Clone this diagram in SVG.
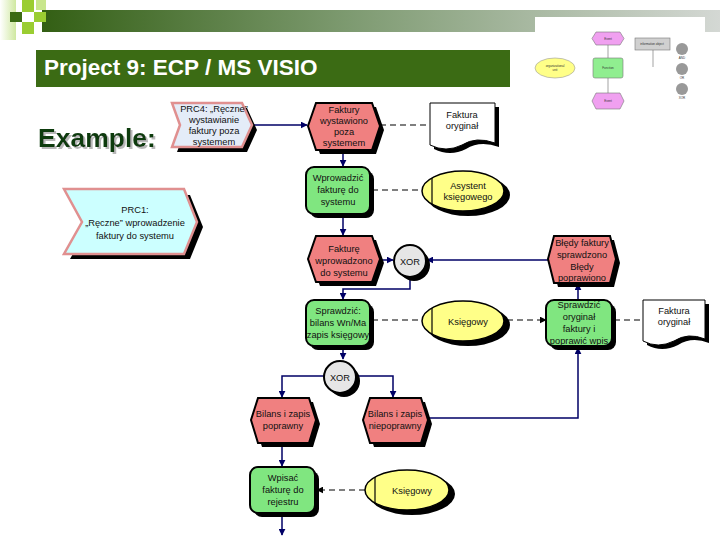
<svg xmlns="http://www.w3.org/2000/svg" width="720" height="540" viewBox="0 0 720 540">
<defs>
<linearGradient id="bar" x1="0" x2="1" y1="0" y2="0">
<stop offset="0" stop-color="#335f14"/>
<stop offset="0.45" stop-color="#7d9a70"/>
<stop offset="1" stop-color="#d4d8d4"/>
</linearGradient>
<linearGradient id="pale" x1="0" x2="1" y1="0" y2="0">
<stop offset="0" stop-color="#ffffff"/>
<stop offset="1" stop-color="#cfe8a0"/>
</linearGradient>
<filter id="tsh" x="-5%" y="-20%" width="115%" height="150%">
<feDropShadow dx="2" dy="2" stdDeviation="0.5" flood-color="#b8b8b8" flood-opacity="1"/>
</filter>
<marker id="arr" viewBox="0 0 10 10" refX="9" refY="5" markerWidth="7" markerHeight="7" orient="auto" markerUnits="userSpaceOnUse">
<path d="M0,0 L10,5 L0,10 z" fill="#000066"/>
</marker>
<marker id="arrk" viewBox="0 0 10 10" refX="9" refY="5" markerWidth="7" markerHeight="7" orient="auto" markerUnits="userSpaceOnUse">
<path d="M0,0 L10,5 L0,10 z" fill="#000000"/>
</marker>
</defs>
<style>
.t{font-family:"Liberation Sans",Arial,sans-serif;font-size:9.3px;fill:#111;text-anchor:middle}
.tt{font-family:"Liberation Sans",Arial,sans-serif;font-size:3px;fill:#333;text-anchor:middle}
.ev{fill:#f08080;stroke:#000;stroke-width:2}
.fn{fill:#80e680;stroke:#000;stroke-width:2}
.org{fill:#ffff88;stroke:#000;stroke-width:1.5}
.doc{fill:#fff;stroke:#000;stroke-width:1}
.prc{stroke:#e09090;stroke-width:2.5}
.sh{fill:#000}
.flow{stroke:#000066;stroke-width:1.5;fill:none}
.dash{stroke:#000;stroke-width:1.2;fill:none;stroke-dasharray:6,4}
.xor{fill:#e6e6e6;stroke:#000;stroke-width:2}
</style>
<rect width="720" height="540" fill="#fff"/>
<!-- header -->
<g id="header">
<rect x="0" y="0" width="16" height="40" fill="url(#pale)"/>
<rect x="42" y="10" width="678" height="22" fill="url(#bar)"/>
<rect x="10" y="12" width="12" height="10" fill="#3b6b14"/>
<rect x="22" y="0" width="12" height="12" fill="#9acd32"/>
<rect x="34" y="12" width="12" height="10" fill="#9acd32"/>
<rect x="22" y="22" width="12" height="12" fill="#9acd32"/>
<rect x="36" y="0" width="10" height="10" fill="#c8e68c"/>
<rect x="36" y="50" width="474" height="37" fill="#3b6b14"/>
<text x="44" y="75" font-family="Liberation Sans,Arial,sans-serif" font-size="22.5" font-weight="bold" fill="#fff">Project 9: ECP / MS VISIO</text>
<text x="38" y="147" font-family="Liberation Sans,Arial,sans-serif" font-size="26.5" font-weight="bold" fill="#0e3a0e" filter="url(#tsh)">Example:</text>
</g>
<!-- legend thumbnail -->
<g id="legend">
<rect x="535" y="17" width="170" height="103" fill="#fff"/>
<line x1="608" y1="45" x2="608" y2="58" stroke="#666" stroke-width="0.6"/>
<line x1="608" y1="78" x2="608" y2="93" stroke="#666" stroke-width="0.6"/>
<line x1="653" y1="50" x2="653" y2="67" stroke="#666" stroke-width="0.6"/>
<polygon points="596,32 620,32 624,38.5 620,45 596,45 592,38.5" fill="#f0a0f0" stroke="#777" stroke-width="0.6"/>
<text class="tt" x="608" y="39.5">Event</text>
<rect x="593" y="58" width="30" height="20" rx="2" fill="#90ee90" stroke="#777" stroke-width="0.6"/>
<text class="tt" x="608" y="69">Function</text>
<polygon points="596,93 620,93 624,101 620,109 596,109 592,101" fill="#f0a0f0" stroke="#777" stroke-width="0.6"/>
<text class="tt" x="608" y="102">Event</text>
<ellipse cx="555" cy="68" rx="20" ry="10" fill="#ffff88" stroke="#999" stroke-width="0.6"/>
<text class="tt" x="555" y="67">organizational</text>
<text class="tt" x="555" y="71">unit</text>
<rect x="635" y="38" width="35" height="12" fill="#d0d0d0" stroke="#777" stroke-width="0.6"/>
<text class="tt" x="652" y="45">information object</text>
<circle cx="682" cy="49" r="6" fill="#999"/>
<text class="tt" x="682" y="59">AND</text>
<circle cx="682" cy="69" r="6" fill="#999"/>
<text class="tt" x="682" y="79">OR</text>
<circle cx="682" cy="89" r="6" fill="#999"/>
<text class="tt" x="682" y="99">XOR</text>
</g>
<!-- connectors -->
<g id="connectors">
<line class="flow" x1="252" y1="125" x2="307" y2="125" marker-end="url(#arr)"/>
<line class="dash" x1="380" y1="125" x2="430" y2="125"/>
<line class="flow" x1="343" y1="150" x2="343" y2="166" marker-end="url(#arr)"/>
<line class="dash" x1="372" y1="190" x2="422" y2="190"/>
<line class="flow" x1="343" y1="214" x2="343" y2="235" marker-end="url(#arr)"/>
<line class="flow" x1="378" y1="260" x2="393" y2="260" marker-end="url(#arr)"/>
<line class="flow" x1="548" y1="260" x2="427" y2="260" marker-end="url(#arr)"/>
<polyline class="flow" points="410,277 410,289 343,289 343,299" marker-end="url(#arr)"/>
<line class="flow" x1="578" y1="300" x2="578" y2="284" marker-end="url(#arr)"/>
<line class="dash" x1="372" y1="320" x2="422" y2="320"/>
<line class="dash" x1="507" y1="320" x2="546" y2="320" marker-end="url(#arrk)"/>
<line class="dash" x1="614" y1="320" x2="643" y2="320"/>
<line class="flow" x1="343" y1="346" x2="343" y2="359" marker-end="url(#arr)"/>
<polyline class="flow" points="324,376 282,376 282,397" marker-end="url(#arr)"/>
<polyline class="flow" points="356,376 393,376 393,397" marker-end="url(#arr)"/>
<polyline class="flow" points="427,418 578,418 578,348" marker-end="url(#arr)"/>
<line class="flow" x1="282" y1="443" x2="282" y2="466" marker-end="url(#arr)"/>
<line class="dash" x1="365" y1="490" x2="317" y2="490" marker-end="url(#arrk)"/>
<line class="flow" x1="282" y1="512" x2="282" y2="535" marker-end="url(#arr)"/>
</g>
<!-- nodes -->
<g id="prc1">
<polygon class="sh" points="70,195 190,195 203,227 190,259 70,259 88,227"/>
<polygon class="prc" fill="#ccffff" points="64,189 184,189 197,222 184,254 64,254 82,222"/>
<text class="t" x="135" y="213">PRC1:</text>
<text class="t" x="135" y="226">„Ręczne” wprowadzenie</text>
<text class="t" x="135" y="239">faktury do systemu</text>
</g>
<g id="prc4">
<polygon class="sh" points="177,108 247,108 257,130 247,152 177,152 185,130"/>
<polygon class="prc" fill="#e4ecf8" points="172,103 242,103 252,125 242,147 172,147 180,125"/>
<text class="t" x="214" y="112">PRC4: „Ręczne”</text>
<text class="t" x="214" y="123">wystawianie</text>
<text class="t" x="214" y="134">faktury poza</text>
<text class="t" x="214" y="145">systemem</text>
</g>
<g id="ev1">
<polygon class="sh" points="320,107 376,107 384,130 376,154 320,154 312,130"/>
<polygon class="ev" points="316,103 372,103 380,126 372,150 316,150 308,126"/>
<text class="t" x="344" y="113">Faktury</text>
<text class="t" x="344" y="124">wystawiono</text>
<text class="t" x="344" y="135">poza</text>
<text class="t" x="344" y="146">systemem</text>
</g>
<g id="doc1">
<path class="sh" d="M434,107 H499 V147 Q480,140 466,149 Q450,157 434,149 Z"/>
<path class="doc" d="M430,103 H495 V143 Q476,136 462,145 Q446,153 430,145 Z"/>
<text class="t" x="462" y="118">Faktura</text>
<text class="t" x="462" y="129">oryginał</text>
</g>
<g id="fn1">
<rect class="sh" x="310" y="171" width="64" height="47" rx="8"/>
<rect class="fn" x="306" y="167" width="64" height="47" rx="8"/>
<text class="t" x="338" y="181">Wprowadzić</text>
<text class="t" x="338" y="193">fakturę do</text>
<text class="t" x="338" y="205">systemu</text>
</g>
<g id="org1">
<ellipse class="sh" cx="468" cy="195" rx="42" ry="21"/>
<ellipse class="org" cx="463" cy="191" rx="41" ry="20"/>
<line x1="432" y1="178" x2="432" y2="204" stroke="#000" stroke-width="1.2"/>
<text class="t" x="468" y="189">Asystent</text>
<text class="t" x="468" y="200">księgowego</text>
</g>
<g id="ev2">
<polygon class="sh" points="320,240 376,240 384,263 376,286 320,286 312,263"/>
<polygon class="ev" points="316,236 372,236 380,259 372,282 316,282 308,259"/>
<text class="t" x="344" y="252">Fakturę</text>
<text class="t" x="344" y="264">wprowadzono</text>
<text class="t" x="344" y="276">do systemu</text>
</g>
<g id="xor1">
<circle class="sh" cx="414" cy="265" r="16"/>
<circle class="xor" cx="410" cy="261" r="16"/>
<text class="t" x="410" y="265">XOR</text>
</g>
<g id="ev3">
<polygon class="sh" points="558,240 614,240 620,263 614,287 558,287 552,263"/>
<polygon class="ev" points="554,236 610,236 616,259 610,283 554,283 548,259"/>
<text class="t" x="582" y="246">Błędy faktury</text>
<text class="t" x="582" y="258">sprawdzono</text>
<text class="t" x="582" y="270">Błędy</text>
<text class="t" x="582" y="281">poprawiono</text>
</g>
<g id="fn2">
<rect class="sh" x="310" y="304" width="64" height="46" rx="8"/>
<rect class="fn" x="306" y="300" width="64" height="46" rx="8"/>
<text class="t" x="338" y="314">Sprawdzić:</text>
<text class="t" x="338" y="326">bilans Wn/Ma</text>
<text class="t" x="338" y="338">zapis księgowy</text>
</g>
<g id="org2">
<ellipse class="sh" cx="468" cy="325" rx="42" ry="21"/>
<ellipse class="org" cx="463" cy="321" rx="41" ry="20"/>
<line x1="432" y1="308" x2="432" y2="334" stroke="#000" stroke-width="1.2"/>
<text class="t" x="468" y="325">Księgowy</text>
</g>
<g id="fn3">
<rect class="sh" x="550" y="304" width="66" height="46" rx="8"/>
<rect class="fn" x="546" y="300" width="66" height="46" rx="8"/>
<text class="t" x="579" y="308">Sprawdzić</text>
<text class="t" x="579" y="320">oryginał</text>
<text class="t" x="579" y="332">faktury i</text>
<text class="t" x="579" y="344">poprawić wpis</text>
</g>
<g id="doc2">
<path class="sh" d="M647,304 H709 V343 Q692,336 678,345 Q662,353 647,345 Z"/>
<path class="doc" d="M643,300 H705 V339 Q688,332 674,341 Q658,349 643,341 Z"/>
<text class="t" x="674" y="314">Faktura</text>
<text class="t" x="674" y="325">oryginał</text>
</g>
<g id="xor2">
<circle class="sh" cx="344" cy="381" r="16"/>
<circle class="xor" cx="340" cy="377" r="16"/>
<text class="t" x="340" y="381">XOR</text>
</g>
<g id="ev4">
<polygon class="sh" points="262,402 313,402 320,424 313,447 262,447 255,424"/>
<polygon class="ev" points="258,398 309,398 316,420 309,443 258,443 251,420"/>
<text class="t" x="283" y="417">Bilans i zapis</text>
<text class="t" x="283" y="429">poprawny</text>
</g>
<g id="ev5">
<polygon class="sh" points="374,402 425,402 432,424 425,447 374,447 367,424"/>
<polygon class="ev" points="370,398 421,398 428,420 421,443 370,443 363,420"/>
<text class="t" x="395" y="417">Bilans i zapis</text>
<text class="t" x="395" y="429">niepoprawny</text>
</g>
<g id="fn4">
<rect class="sh" x="254" y="471" width="65" height="46" rx="8"/>
<rect class="fn" x="250" y="467" width="65" height="46" rx="8"/>
<text class="t" x="283" y="481">Wpisać</text>
<text class="t" x="283" y="493">fakturę do</text>
<text class="t" x="283" y="505">rejestru</text>
</g>
<g id="org3">
<ellipse class="sh" cx="412" cy="494" rx="43" ry="21"/>
<ellipse class="org" cx="407" cy="490" rx="42" ry="20"/>
<line x1="375" y1="477" x2="375" y2="503" stroke="#000" stroke-width="1.2"/>
<text class="t" x="412" y="494">Księgowy</text>
</g>
</svg>
